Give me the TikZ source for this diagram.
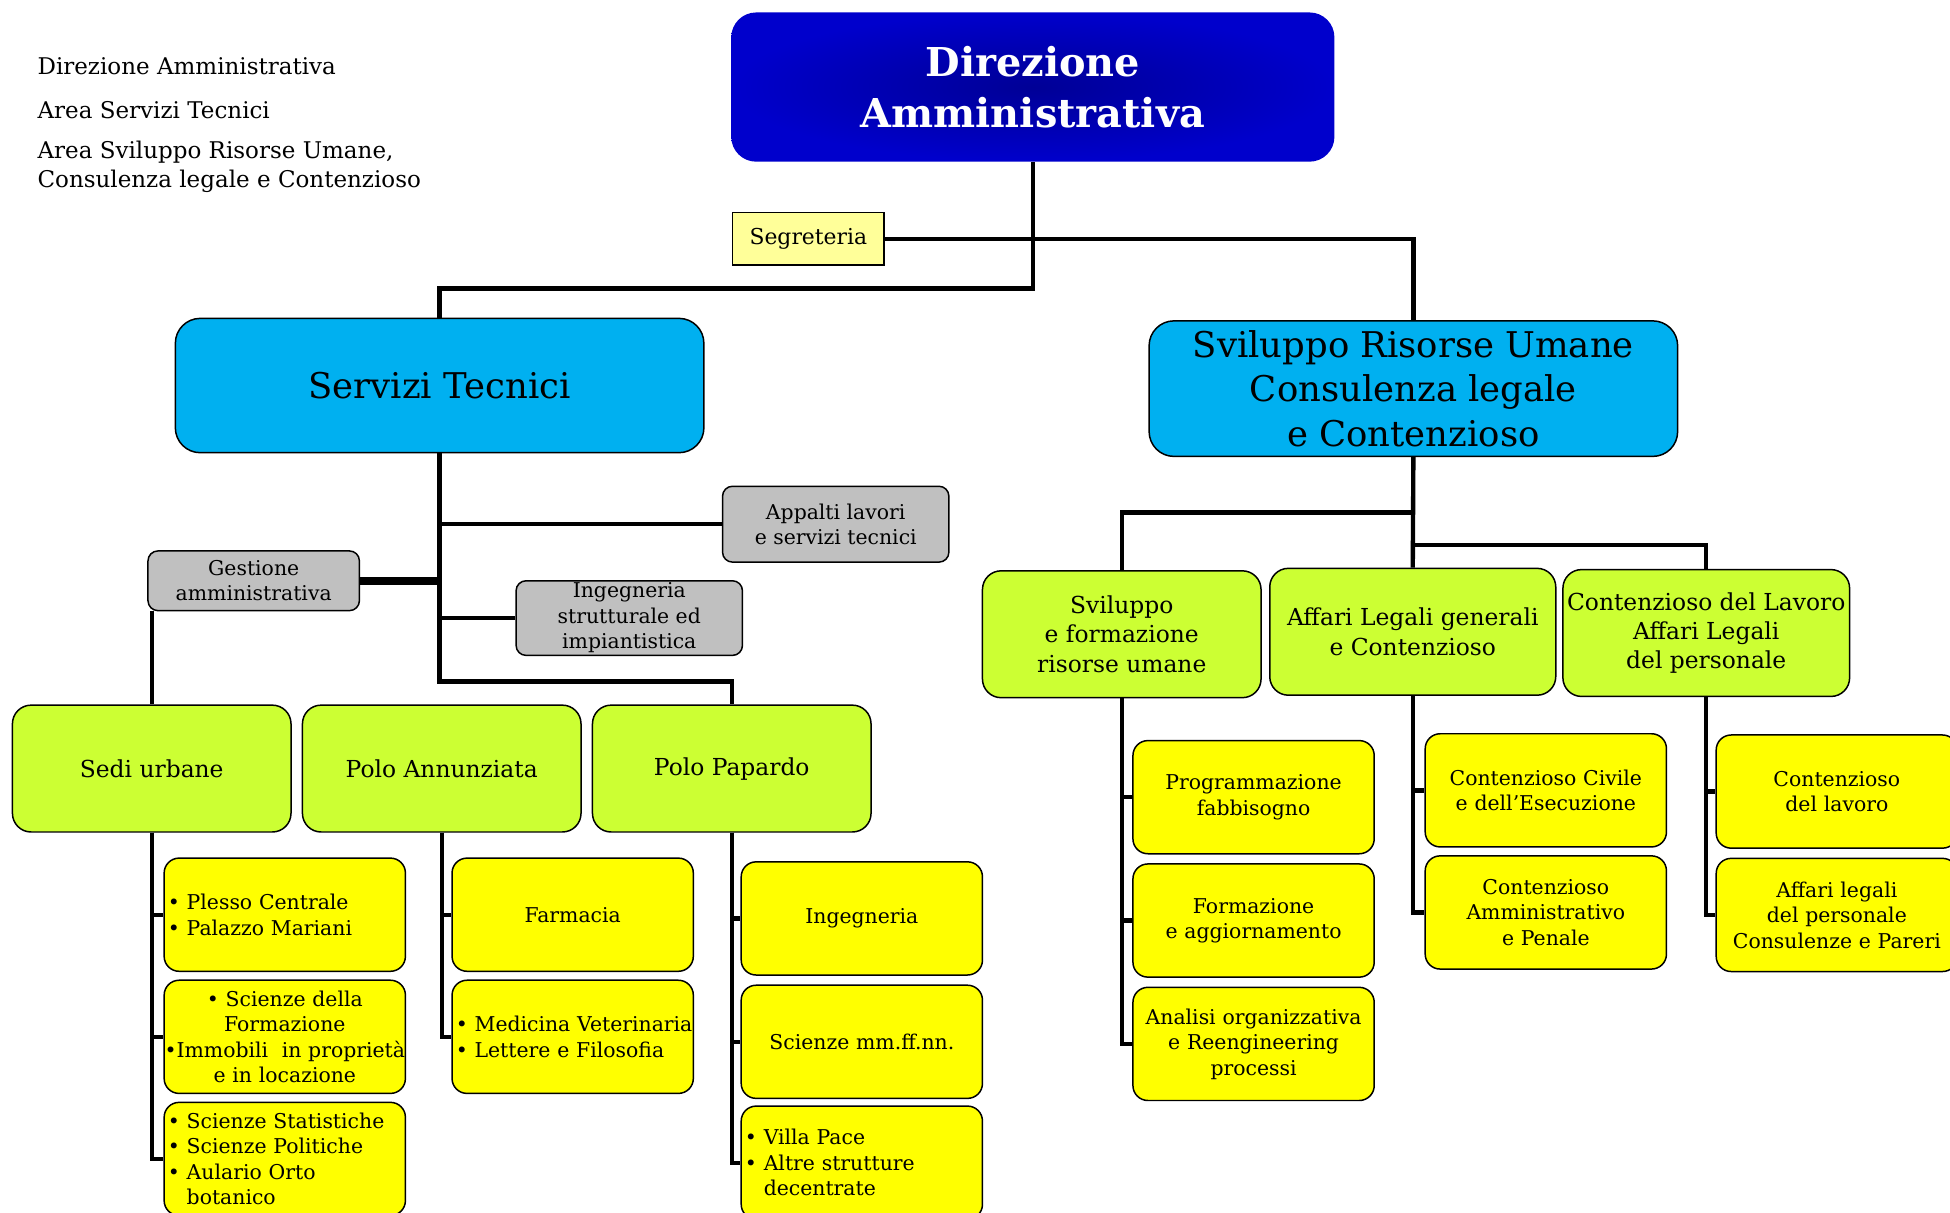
\documentclass[tikz,border=0pt]{standalone}
\usepackage{fontspec}
\setmainfont{DejaVu Serif}
\usetikzlibrary{positioning}
\definecolor{dirblue}{RGB}{0,0,204}
\definecolor{dirdark}{RGB}{0,0,150}
\definecolor{areacyan}{RGB}{0,176,240}
\definecolor{sectgreen}{RGB}{204,255,51}
\definecolor{unityellow}{RGB}{255,255,0}
\definecolor{staffgrey}{RGB}{192,192,192}
\definecolor{segyellow}{RGB}{255,255,153}
\tikzstyle{line} = [draw, line width=3.5pt]
\tikzstyle{direz} = [rectangle, rounded corners=20pt, minimum width=485pt, minimum height=120pt, inner color=dirdark, outer color=dirblue, text=white, align=center, font=\fontsize{32}{41}\selectfont\bfseries]
\tikzstyle{area} = [rectangle, draw, line width=1.2pt, rounded corners=20pt, fill=areacyan, minimum width=425pt, align=center, font=\fontsize{28.5}{36}\selectfont]
\tikzstyle{sect} = [rectangle, draw, line width=1.2pt, rounded corners=15pt, fill=sectgreen, minimum width=224pt, minimum height=102pt, align=center, font=\fontsize{18.8}{23.5}\selectfont]
\tikzstyle{unit} = [rectangle, draw, line width=1.2pt, rounded corners=12pt, fill=unityellow, text width=188pt, inner xsep=3pt, inner ysep=2pt, minimum height=91pt, align=center, font=\fontsize{16.4}{20.5}\selectfont]
\tikzstyle{staff} = [rectangle, draw, line width=1.2pt, rounded corners=8pt, fill=staffgrey, align=center, inner sep=0pt, font=\fontsize{16.4}{20.5}\selectfont]
\tikzstyle{legend} = [align=left, inner sep=0pt, font=\fontsize{18.5}{23}\selectfont]

\begin{document}
\begin{tikzpicture}[x=1pt, y=-1pt]
\path[use as bounding box, fill=white] (0,0) rectangle (1568,975);
% legenda
\node [legend, anchor=base west] (lgdir) at (30,60) {Direzione Amministrativa};
\node [legend, anchor=base west] (lgst) at (30,95) {Area Servizi Tecnici};
\node [legend, anchor=west] (lgsru) at (30,134) {Area Sviluppo Risorse Umane,\\Consulenza legale e Contenzioso};
% vertice
\node [direz] (dir) at (830.5,70) {Direzione\\Amministrativa};
\node [rectangle, draw, line width=1.2pt, fill=segyellow, minimum width=122pt, minimum height=42pt, font=\fontsize{17.6}{22}\selectfont] (seg) at (650,192) {Segreteria};
\node [area, minimum height=108pt] (st) at (353.5,310) {Servizi Tecnici};
\node [area, minimum height=109pt] (sru) at (1136.5,312.5) {Sviluppo Risorse Umane\\Consulenza legale\\e Contenzioso};
% servizi tecnici
\node [staff, minimum width=182pt, minimum height=61pt] (app) at (672,421.5) {Appalti lavori\\e servizi tecnici};
\node [staff, minimum width=170pt, minimum height=48pt] (ges) at (204,467) {Gestione\\amministrativa};
\node [staff, minimum width=182pt, minimum height=60pt] (ing) at (506,497) {Ingegneria\\strutturale ed\\impiantistica};
\node [sect] (su) at (122,618) {Sedi urbane};
\node [sect, right=8pt of su] (pa) {Polo Annunziata};
\node [sect, right=8pt of pa] (pp) {Polo Papardo};
\node [unit, align=left] (su1) at (229,735.5) {• Plesso Centrale\\• Palazzo Mariani};
\node [unit, below=6pt of su1] (su2) {• Scienze della\\Formazione\\\makebox[188pt]{•Immobili\ \ in proprietà}\\e in locazione};
\node [unit, align=left, below=6pt of su2] (su3) {• Scienze Statistiche\\• Scienze Politiche\\• Aulario Orto\\\phantom{• }botanico};
\node [unit] (pa1) at (460.5,735.5) {Farmacia};
\node [unit, align=left, below=6pt of pa1] (pa2) {\mbox{• Medicina Veterinaria}\\• Lettere e Filosofia};
\node [unit] (pp1) at (693,738.5) {Ingegneria};
\node [unit, below=7pt of pp1] (pp2) {Scienze mm.ff.nn.};
\node [unit, align=left, below=5pt of pp2] (pp3) {• Villa Pace\\• Altre strutture\\\phantom{• }decentrate};
% sviluppo risorse umane
\node [sect] (svf) at (902,510) {Sviluppo\\e formazione\\risorse umane};
\node [sect, minimum width=230pt] (afg) at (1136,508) {Affari Legali generali\\e Contenzioso};
\node [sect, minimum width=230pt] (cdl) at (1372,509) {Contenzioso del Lavoro\\Affari Legali\\del personale};
\node [unit] (svf1) at (1008,641) {Programmazione\\fabbisogno};
\node [unit, below=7pt of svf1] (svf2) {Formazione\\e aggiornamento};
\node [unit, below=7pt of svf2] (svf3) {Analisi organizzativa\\e Reengineering\\processi};
\node [unit] (afg1) at (1243,635.5) {Contenzioso Civile\\e dell’Esecuzione};
\node [unit, below=6pt of afg1] (afg2) {Contenzioso\\Amministrativo\\e Penale};
\node [unit] (cdl1) at (1477,636.5) {Contenzioso\\del lavoro};
\node [unit, below=7pt of cdl1] (cdl2) {Affari legali\\del personale\\Consulenze e Pareri};
% collegamenti
\coordinate (topjoin) at (830.5,232);
\coordinate (stjoin) at (353.5,548);
\coordinate (srujoinA) at (1136.5,412);
\coordinate (srujoinB) at (1136.5,438);
\path [line] (dir.south) -- (topjoin) -| (st.north);
\path [line] (seg.east) -| (sru.north);
\path [line] (st.south) -- (stjoin) -| (pp.north);
\path [line] (app.west) -- (app.west -| st.south);
\path [line, line width=6pt] (ges.east) -- (ges.east -| st.south);
\path [line] (ing.west) -- (ing.west -| st.south);
\path [line] (ges.south -| su.north) -- (su.north);
\path [line] (sru.south) -- (afg.north);
\path [line] (svf.north) |- (srujoinA);
\path [line] (cdl.north) |- (srujoinB);
\foreach \c in {su1,su2,su3} \path [line] (su.south) |- (\c.west);
\foreach \c in {pa1,pa2} \path [line] (pa.south) |- (\c.west);
\foreach \c in {pp1,pp2,pp3} \path [line] (pp.south) |- (\c.west);
\foreach \c in {svf1,svf2,svf3} \path [line] (svf.south) |- (\c.west);
\foreach \c in {afg1,afg2} \path [line] (afg.south) |- (\c.west);
\foreach \c in {cdl1,cdl2} \path [line] (cdl.south) |- (\c.west);
\end{tikzpicture}
\end{document}
